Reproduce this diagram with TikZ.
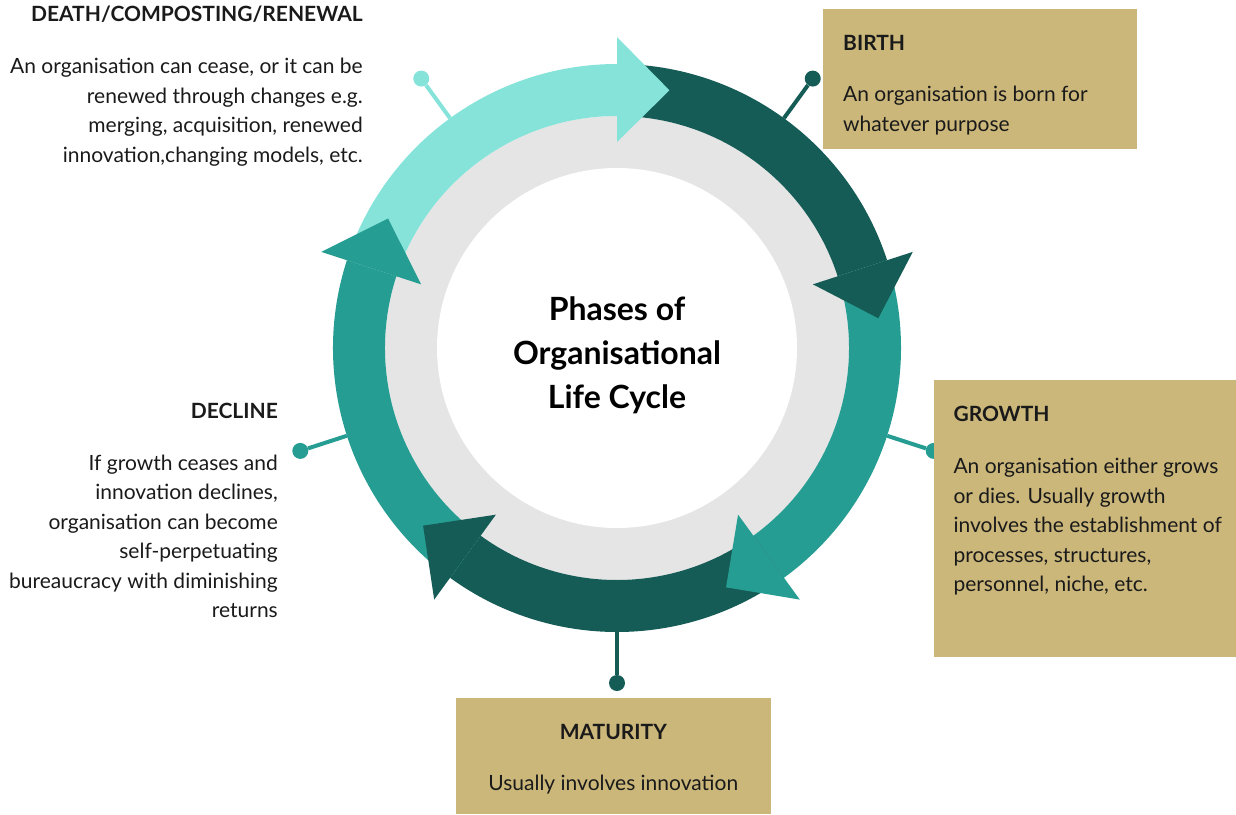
\documentclass[tikz,border=0pt]{standalone}
\usepackage{fontspec}
\setmainfont{Lato}
\usetikzlibrary{positioning}

\definecolor{ringlight}{HTML}{86E3DA}
\definecolor{ringteal}{HTML}{269D92}
\definecolor{ringdark}{HTML}{165C56}
\definecolor{ringgray}{HTML}{E5E5E5}
\definecolor{boxgold}{HTML}{CBB77A}
\definecolor{inkgray}{HTML}{1A1A1A}

\begin{document}
\begin{tikzpicture}[
  x=1pt, y=1pt,
  phasebox/.style={rectangle, fill=boxgold, inner sep=0pt},
  phasehead/.style={font=\fontsize{21}{29.5}\selectfont\bfseries, text=inkgray, inner sep=0pt},
  phasetext/.style={font=\fontsize{21}{29.5}\selectfont, text=inkgray, inner sep=0pt},
  hubtext/.style={font=\fontsize{32}{44}\selectfont\bfseries, align=center, inner sep=0pt},
  pin/.style={circle, inner sep=0pt, minimum size=16pt},
  link/.style={line width=4pt}
]
\useasboundingbox (-617,-466) rectangle (619,348);

% grey ring behind the arrows
\fill[ringgray] (0,0) circle[radius=232];
\fill[white] (0,0) circle[radius=180];

% bands
\fill[ringlight] (162:284) arc[start angle=162, end angle=90, radius=284]
  -- (90:232) arc[start angle=90, end angle=162, radius=232] -- cycle;
\fill[ringdark] (90:284) arc[start angle=90, end angle=18, radius=284]
  -- (18:232) arc[start angle=18, end angle=90, radius=232] -- cycle;
\fill[ringteal] (18:284) arc[start angle=18, end angle=-54, radius=284]
  -- (-54:232) arc[start angle=-54, end angle=18, radius=232] -- cycle;
\fill[ringdark] (-54:284) arc[start angle=-54, end angle=-126, radius=284]
  -- (-126:232) arc[start angle=-126, end angle=-54, radius=232] -- cycle;
\fill[ringteal] (-126:284) arc[start angle=-126, end angle=-198, radius=284]
  -- (-198:232) arc[start angle=-198, end angle=-126, radius=232] -- cycle;

% arrow heads
\fill[ringlight] (90:311) -- (78.5:263) -- (90:206) -- cycle;
\fill[ringdark]  (18:311) -- (6.5:263) -- (18:206) -- cycle;
\fill[ringteal]  (-54:311) -- (-65.5:263) -- (-54:206) -- cycle;
\fill[ringdark]  (-126:311) -- (-137.5:263) -- (-126:206) -- cycle;
\fill[ringteal]  (162:311) -- (150.5:263) -- (162:206) -- cycle;

% centre title
\node[hubtext] (hub) at (0,-7.6) {Phases of\\Organisational\\Life Cycle};

% pins
\coordinate (deathring)    at (126:284);
\coordinate (birthring)    at (54:284);
\coordinate (growthring)   at (-18:284);
\coordinate (maturityring) at (-90:284);
\coordinate (declinering)  at (-162:284);
\node[pin, fill=ringlight] (deathdot)    at (126:333) {};
\node[pin, fill=ringdark]  (birthdot)    at (54:333) {};
\node[pin, fill=ringteal]  (growthdot)   at (-18:333) {};
\node[pin, fill=ringdark]  (maturitydot) at (-90:335) {};
\node[pin, fill=ringteal]  (declinedot)  at (-162:333) {};
\draw[link, ringlight] (deathring) -- (deathdot);
\draw[link, ringdark]  (birthring) -- (birthdot);
\draw[link, ringteal]  (growthring) -- (growthdot);
\draw[link, ringdark]  (maturityring) -- (maturitydot);
\draw[link, ringteal]  (declinering) -- (declinedot);

% boxes
\node[phasebox, minimum width=314pt, minimum height=140pt] (birthbox) at (363,269) {};
\node[phasebox, minimum width=302pt, minimum height=277pt] (growthbox) at (468,-170.5) {};
\node[phasebox, minimum width=315pt, minimum height=116pt] (maturitybox) at (-3.5,-408) {};

% texts (base anchor sits on the last line)
\node[phasehead, anchor=base east] (deathhead) at (-254,326) {DEATH/COMPOSTING/RENEWAL};
\node[phasetext, anchor=base east, align=right] (deathtext) at (-254,185.5)
  {An organisation can cease, or it can be\\renewed through changes e.g.\\merging, acquisition, renewed\\innovation,changing models, etc.};

\node[phasehead, anchor=base west] (birthhead) at (226,297) {BIRTH};
\node[phasetext, anchor=base west, align=left] (birthtext) at (226,216.8)
  {An organisation is born for\\whatever purpose};

\node[phasehead, anchor=base west] (growthhead) at (336.3,-73.7) {GROWTH};
\node[phasetext, anchor=base west, align=left] (growthtext) at (336.3,-243.5)
  {An organisation either grows\\or dies. Usually growth\\involves the establishment of\\processes, structures,\\personnel, niche, etc.};

\node[phasehead, anchor=base] (maturityhead) at (-3.7,-391.3) {MATURITY};
\node[phasetext, anchor=base] (maturitytext) at (-3.7,-442.5) {Usually involves innovation};

\node[phasehead, anchor=base east] (declinehead) at (-339,-70.3) {DECLINE};
\node[phasetext, anchor=base east, align=right] (declinetext) at (-339,-269.7)
  {If growth ceases and\\innovation declines,\\organisation can become\\self-perpetuating\\bureaucracy with diminishing\\returns};

\end{tikzpicture}
\end{document}
